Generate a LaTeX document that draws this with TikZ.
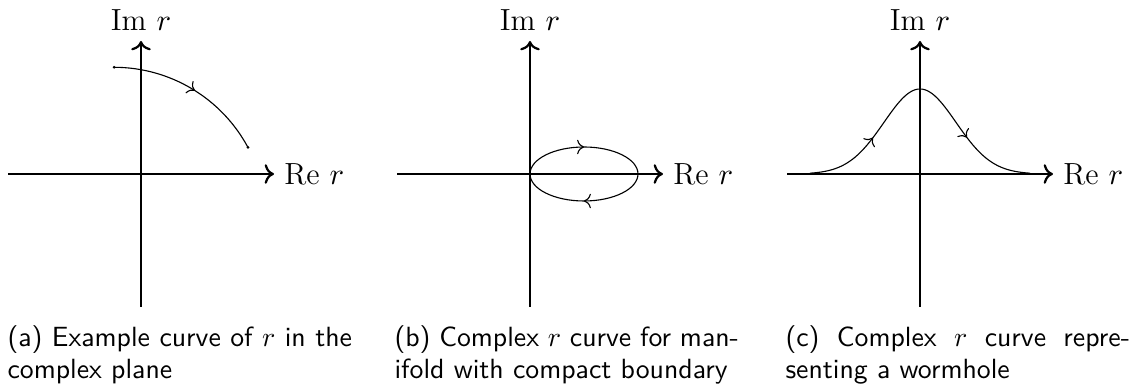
\documentclass[tikz,border=0pt]{standalone}
\usepackage{amsfonts,amssymb,amsmath}
\usepackage{tikz}
\usetikzlibrary{arrows.meta,decorations.markings}

\tikzset{
axis/.style={thick,->},
curve/.style={thin},
lbl/.style={font=\fontsize{11}{13}\selectfont},
onemark/.style={postaction={decorate},decoration={markings,mark=at position #1 with {\arrow{>}}}},
twomarks/.style 2 args={postaction={decorate},decoration={markings,mark=at position #1 with {\arrow{>}},mark=at position #2 with {\arrow{>}}}},
capt/.style={text width=124pt,align=justify,inner sep=0pt,anchor=base west,font=\sffamily\fontsize{10}{11.4}\selectfont}
}

\begin{document}
\begin{tikzpicture}[x=0.36pt,y=0.36pt]
\useasboundingbox(0,0)rectangle(1133,392);
\begin{scope}[shift={(141,218)}]
\draw[axis](-133,0)--(133,0)node[right,lbl](reA){Re $r$};
\draw[axis](0,-133)--(0,133)node[above,lbl](imA){Im $r$};
\draw[curve,onemark=0.52](-26.9,106.7)arc(90:28.2:151.9);
\fill(-26.9,106.7)circle(0.55pt)(107,26.6)circle(0.55pt);
\node[capt](capA)at(-134,-173){(a) Example curve of $r$ in the\linebreak complex plane};
\end{scope}
\begin{scope}[shift={(530,218)}]
\draw[axis](-133,0)--(133,0)node[right,lbl](reB){Re $r$};
\draw[axis](0,-133)--(0,133)node[above,lbl](imB){Im $r$};
\draw[curve,twomarks={0.25}{0.75}](0,0)arc(180:-180:54 and 27);
\node[capt](capB)at(-136,-173){(b) Complex $r$ curve for man-\linebreak ifold with compact boundary};
\end{scope}
\begin{scope}[shift={(920,218)}]
\draw[axis](-133,0)--(133,0)node[right,lbl](reC){Re $r$};
\draw[axis](0,-133)--(0,133)node[above,lbl](imC){Im $r$};
\draw[curve,twomarks={0.26}{0.74}]plot[domain=-110:110,samples=89](\x,{85*exp(0-(\x/51)^2)});
\node[capt](capC)at(-135,-173){(c) Complex $r$ curve repre-\linebreak senting a wormhole};
\end{scope}
\end{tikzpicture}
\end{document}
